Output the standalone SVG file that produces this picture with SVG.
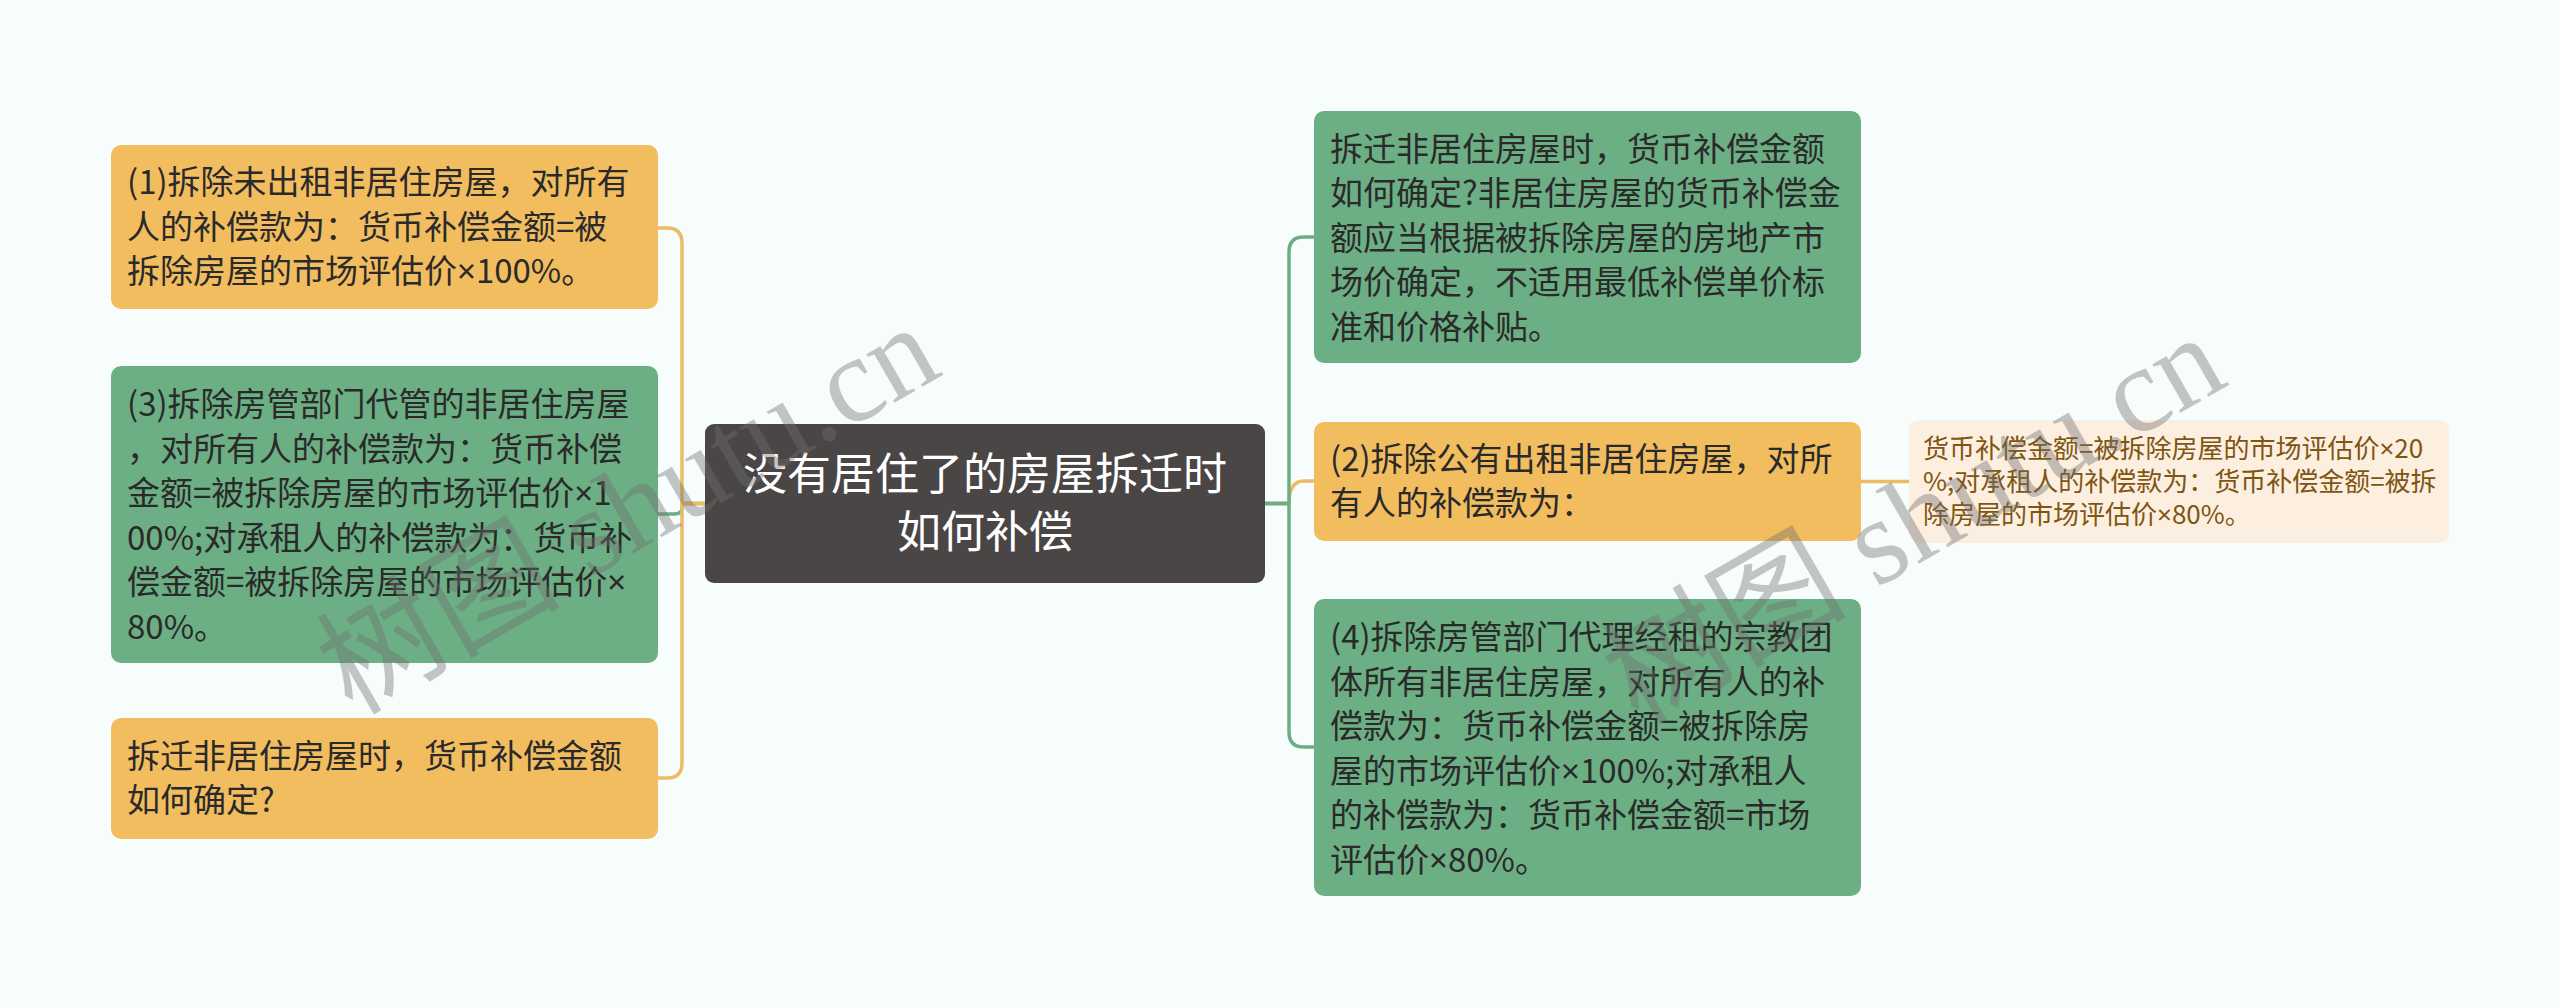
<svg xmlns="http://www.w3.org/2000/svg" width="2560" height="1008" viewBox="0 0 2560 1008">
<style>
.bg{fill:#F7FDFC}
.orange{fill:#F2BD5F}
.green{fill:#6DAF84}
.root{fill:#4B4646}
.leaf{fill:#FCEFE0}
.t{font-family:"Noto Sans CJK SC","Noto Sans",sans-serif;font-size:33px;fill:#2A2A2A}
.rt{font-family:"Noto Sans CJK SC","Noto Sans",sans-serif;font-size:44px;fill:#FFFFFF;text-anchor:middle}
.lt{font-family:"Noto Sans CJK SC","Noto Sans",sans-serif;font-size:26px;fill:#7F5512}
.x{font-family:"Noto Sans",sans-serif}
.co{fill:none;stroke:#EDBB63;stroke-width:3.5}
.cg{fill:none;stroke:#6DAD85;stroke-width:3.5}
.wm{font-family:"Liberation Serif","Noto Sans CJK SC",serif;font-size:122px;fill:#6E6E6E;fill-opacity:0.4}
</style>
<rect class="bg" x="0" y="0" width="2560" height="1008"/>
<g id="connectors">
<path class="cg" d="M705,503.5 H684 Q682,503.5 682,508 Q682,514 674,514 H658"/>
<path class="co" d="M705,503.5 H682 V243 Q682,228 667,228 H658"/>
<path class="co" d="M705,503.5 H682 V763 Q682,778 667,778 H658"/>
<path class="co" d="M1265,503.5 H1289 Q1289,481 1304,481 H1314"/>
<path class="cg" d="M1265,503.5 H1289 V252 Q1289,237 1304,237 H1314"/>
<path class="cg" d="M1265,503.5 H1289 V732 Q1289,747 1304,747 H1314"/>
<path class="co" d="M1861,481.5 H1909"/>
</g>
<g id="root">
<rect class="root" x="705" y="424" width="560" height="159" rx="9"/>
<text class="rt" x="985" y="490">没有居住了的房屋拆迁时</text>
<text class="rt" x="985" y="548">如何补偿</text>
</g>
<g id="n1">
<rect class="orange" x="111" y="145" width="547" height="164" rx="10"/>
<text class="t" x="127" y="194">(1)拆除未出租非居住房屋，对所有</text>
<text class="t" x="127" y="239">人的补偿款为：货币补偿金额=被</text>
<text class="t" x="127" y="283">拆除房屋的市场评估价<tspan class="x">×</tspan>100%。</text>
</g>
<g id="n3">
<rect class="green" x="111" y="366" width="547" height="297" rx="10"/>
<text class="t" x="127" y="416">(3)拆除房管部门代管的非居住房屋</text>
<text class="t" x="127" y="461">，对所有人的补偿款为：货币补偿</text>
<text class="t" x="127" y="505">金额=被拆除房屋的市场评估价<tspan class="x">×</tspan>1</text>
<text class="t" x="127" y="550">00%;对承租人的补偿款为：货币补</text>
<text class="t" x="127" y="594">偿金额=被拆除房屋的市场评估价<tspan class="x">×</tspan></text>
<text class="t" x="127" y="639">80%。</text>
</g>
<g id="n5">
<rect class="orange" x="111" y="718" width="547" height="121" rx="10"/>
<text class="t" x="127" y="768">拆迁非居住房屋时，货币补偿金额</text>
<text class="t" x="127" y="812">如何确定?</text>
</g>
<g id="nA">
<rect class="green" x="1314" y="111" width="547" height="252" rx="10"/>
<text class="t" x="1330" y="161">拆迁非居住房屋时，货币补偿金额</text>
<text class="t" x="1330" y="205">如何确定?非居住房屋的货币补偿金</text>
<text class="t" x="1330" y="250">额应当根据被拆除房屋的房地产市</text>
<text class="t" x="1330" y="294">场价确定，不适用最低补偿单价标</text>
<text class="t" x="1330" y="339">准和价格补贴。</text>
</g>
<g id="n2">
<rect class="orange" x="1314" y="422" width="547" height="119" rx="10"/>
<text class="t" x="1330" y="471">(2)拆除公有出租非居住房屋，对所</text>
<text class="t" x="1330" y="515">有人的补偿款为：</text>
</g>
<g id="n4">
<rect class="green" x="1314" y="599" width="547" height="297" rx="10"/>
<text class="t" x="1330" y="649">(4)拆除房管部门代理经租的宗教团</text>
<text class="t" x="1330" y="694">体所有非居住房屋，对所有人的补</text>
<text class="t" x="1330" y="738">偿款为：货币补偿金额=被拆除房</text>
<text class="t" x="1330" y="783">屋的市场评估价<tspan class="x">×</tspan>100%;对承租人</text>
<text class="t" x="1330" y="827">的补偿款为：货币补偿金额=市场</text>
<text class="t" x="1330" y="872">评估价<tspan class="x">×</tspan>80%。</text>
</g>
<g id="n2a">
<rect class="leaf" x="1909" y="420" width="540" height="123" rx="10"/>
<text class="lt" x="1923" y="458">货币补偿金额=被拆除房屋的市场评估价<tspan class="x">×</tspan>20</text>
<text class="lt" x="1923" y="491">%;对承租人的补偿款为：货币补偿金额=被拆</text>
<text class="lt" x="1923" y="524">除房屋的市场评估价<tspan class="x">×</tspan>80%。</text>
</g>
<g id="watermarks">
<text class="wm" transform="translate(352,716) rotate(-30)">树图 shutu.cn</text>
<text class="wm" transform="translate(1638,726) rotate(-30)">树图 shutu.cn</text>
</g>
</svg>
